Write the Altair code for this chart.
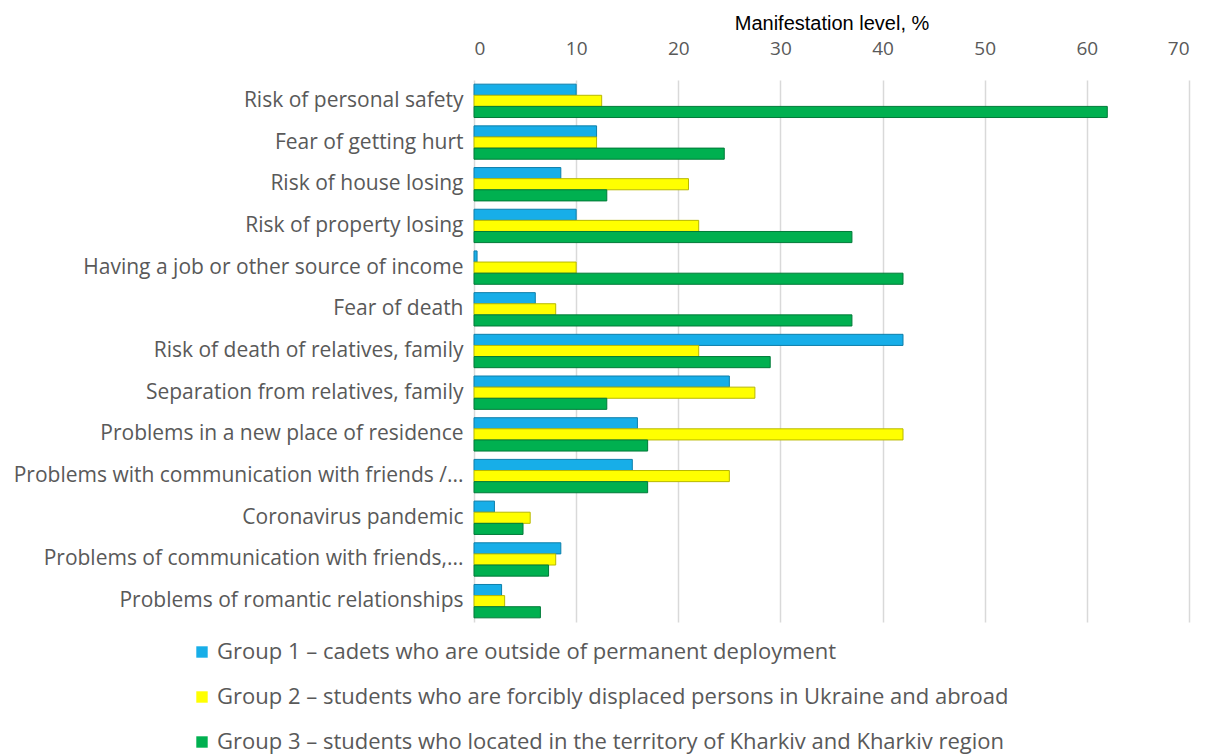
import altair as alt
import pandas as pd

categories = [
    "Risk of personal safety",
    "Fear of getting hurt",
    "Risk of house losing",
    "Risk of property losing",
    "Having a job or other source of income",
    "Fear of death",
    "Risk of death of relatives, family",
    "Separation from relatives, family",
    "Problems in a new place of residence",
    "Problems with communication with friends /...",
    "Coronavirus pandemic",
    "Problems of communication with friends,...",
    "Problems of romantic relationships",
]
groups = [
    "Group 1 \u2013 cadets who are outside of permanent deployment",
    "Group 2 \u2013 students who are forcibly displaced persons in Ukraine and abroad",
    "Group 3 \u2013 students who located in the territory of Kharkiv and Kharkiv region",
]
group1 = [10, 12, 8.5, 10, 0.3, 6, 42, 25, 16, 15.5, 2, 8.5, 2.7]
group2 = [12.5, 12, 21, 22, 10, 8, 22, 27.5, 42, 25, 5.5, 8, 3]
group3 = [62, 24.5, 13, 37, 42, 37, 29, 13, 17, 17, 4.8, 7.3, 6.5]
colors = ["#17AEE8", "#FFFF00", "#00B050"]
strokes = ["#0E7FAA", "#B8B800", "#007A38"]

rows = []
for vals, g in zip([group1, group2, group3], groups):
    for c, v in zip(categories, vals):
        rows.append({"category": c, "group": g, "value": v})
df = pd.DataFrame(rows)

chart = alt.Chart(df).mark_bar(strokeWidth=1).encode(
    x=alt.X("value:Q",
            scale=alt.Scale(domain=[0, 70], nice=False),
            axis=alt.Axis(orient="top", values=[0, 10, 20, 30, 40, 50, 60, 70],
                          title="Manifestation level, %", grid=True, domain=False,
                          ticks=False, labelFontSize=19, labelColor="#595959",
                          labelFont="Open Sans", titleFont="Liberation Sans",
                          titleFontSize=20, titleFontWeight="normal",
                          titleColor="#000000", titlePadding=6, labelPadding=22,
                          gridColor="#d9d9d9", gridWidth=1.5)),
    y=alt.Y("category:N", sort=categories,
            scale=alt.Scale(paddingInner=0.2, paddingOuter=0.1),
            axis=alt.Axis(title=None, domain=False, ticks=False, labelFontSize=21,
                          labelFont="Open Sans", labelColor="#595959", labelPadding=11,
                          labelLimit=600)),
    yOffset=alt.YOffset("group:N", sort=groups),
    color=alt.Color("group:N", sort=groups,
                    scale=alt.Scale(domain=groups, range=colors),
                    legend=alt.Legend(title=None, orient="none", direction="vertical",
                                      legendX=-283, legendY=561,
                                      symbolType="square", symbolSize=130,
                                      symbolStrokeWidth=0,
                                      labelFontSize=22, labelFont="Open Sans",
                                      labelColor="#595959", rowPadding=23,
                                      labelLimit=900)),
    stroke=alt.Stroke("group:N", sort=groups,
                      scale=alt.Scale(domain=groups, range=strokes), legend=None),
).properties(width=715, height=542).configure_view(stroke=None)

chart.save("out.html", embed_options={"renderer": "svg", "actions": False})
